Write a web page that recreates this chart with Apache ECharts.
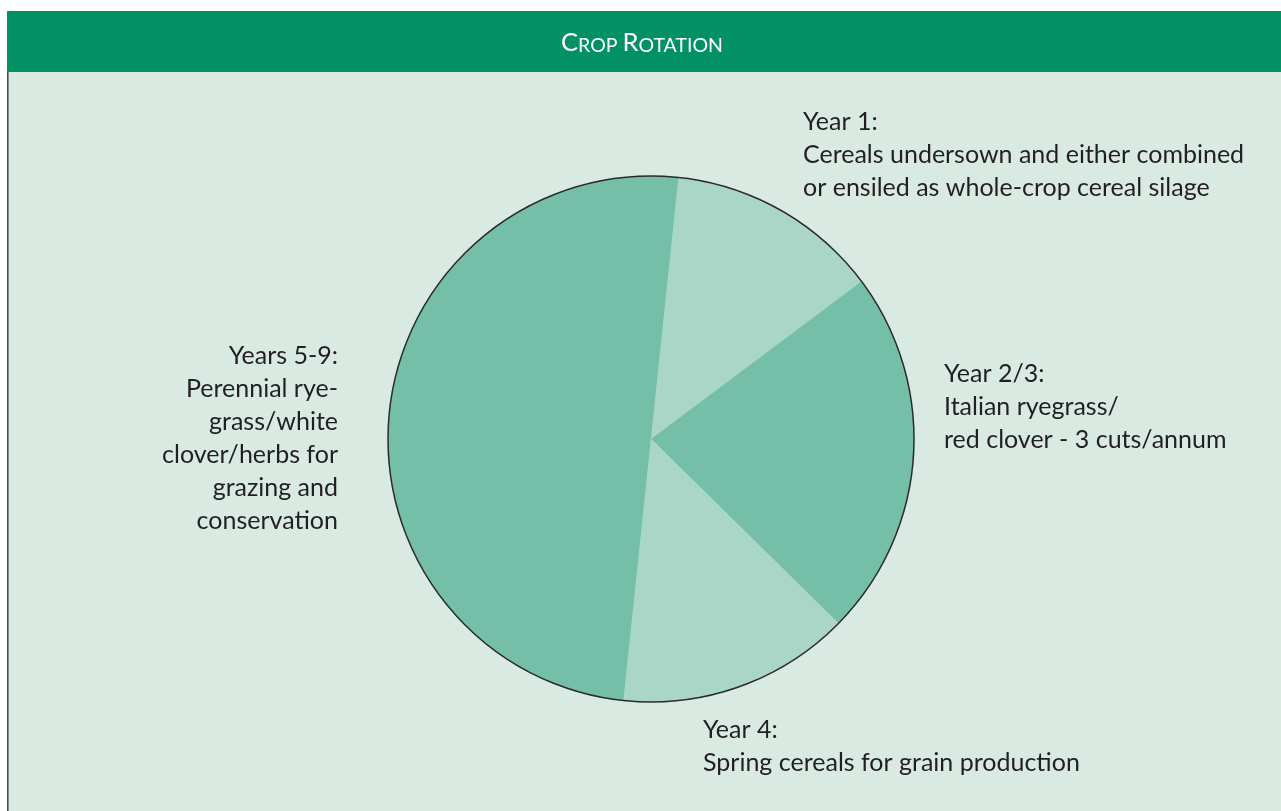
<!DOCTYPE html>
<html>
<head>
<meta charset="utf-8">
<title>Crop Rotation</title>
<script src="https://cdn.jsdelivr.net/npm/echarts@6/dist/echarts.min.js"></script>
<style>
  html, body { margin: 0; padding: 0; background: #ffffff; }
  #chart { width: 1281px; height: 811px; }
</style>
</head>
<body>
<div id="chart"></div>
<script>
// Rotation stages and their share of the cycle
const stageNames = ['Year 1', 'Year 2/3', 'Year 4', 'Years 5-9'];
const stageShares = [13.1, 22.6, 14.3, 50.0];
const stageNotes = [
  'Cereals undersown and either combined\nor ensiled as whole-crop cereal silage',
  'Italian ryegrass/\nred clover - 3 cuts/annum',
  'Spring cereals for grain production',
  'Perennial rye-\ngrass/white\nclover/herbs for\ngrazing and\nconservation'
];

// Styling and label placement
const sliceColors = ['#aad6c7', '#75bfa8', '#aad6c7', '#75bfa8'];
const labelSpots = [
  { x: 803, y: 105, align: 'left' },
  { x: 944, y: 357, align: 'left' },
  { x: 703, y: 713, align: 'left' },
  { x: 338, y: 339, align: 'right' }
];
const FONT = 'Lato, "Open Sans", sans-serif';

const chart = echarts.init(document.getElementById('chart'), null, { renderer: 'canvas' });

const option = {
  animation: false,
  backgroundColor: '#ffffff',
  graphic: [
    // panel body
    { type: 'rect', z: -10, shape: { x: 7, y: 72, width: 1274, height: 739 }, style: { fill: '#d8eae2' } },
    // left rule
    { type: 'rect', z: -9, shape: { x: 7, y: 72, width: 1.6, height: 739 }, style: { fill: '#4a4a4a' } },
    // heading band
    { type: 'rect', z: -9, shape: { x: 7, y: 11, width: 1274, height: 61 }, style: { fill: '#029165' } },
    {
      type: 'text', z: 10, x: 642, y: 43,
      style: {
        text: '{a|C}{b|ROP }{a|R}{b|OTATION}',
        align: 'center', verticalAlign: 'middle',
        fill: '#ffffff',
        rich: {
          a: { fontSize: 25.5, fontFamily: FONT, fill: '#ffffff', verticalAlign: 'bottom' },
          b: { fontSize: 19.5, fontFamily: FONT, fill: '#ffffff', verticalAlign: 'bottom' }
        }
      }
    }
  ],
  series: [
    {
      type: 'pie',
      center: [651, 439],
      radius: [0, 263],
      startAngle: 84,
      clockwise: true,
      silent: true,
      avoidLabelOverlap: false,
      data: stageNames.map((n, i) => ({
        name: n,
        value: stageShares[i],
        itemStyle: { color: sliceColors[i] }
      })),
      itemStyle: { borderWidth: 0 },
      label: {
        show: true,
        position: 'outside',
        formatter: p => p.name + ':\n' + stageNotes[p.dataIndex],
        fontFamily: FONT,
        fontSize: 25,
        lineHeight: 33,
        color: '#231f20'
      },
      labelLine: { show: false },
      labelLayout: p => {
        const s = labelSpots[p.dataIndex];
        return { x: s.x, y: s.y, align: s.align, verticalAlign: 'top', hideOverlap: false };
      }
    },
    {
      // outer rim of the wheel
      type: 'pie',
      center: [651, 439],
      radius: [0, 263],
      silent: true,
      label: { show: false },
      labelLine: { show: false },
      data: [{ value: 1, itemStyle: { color: 'rgba(0,0,0,0)', borderColor: '#2a2a2a', borderWidth: 1.5 } }]
    }
  ]
};

chart.setOption(option);
</script>
</body>
</html>
